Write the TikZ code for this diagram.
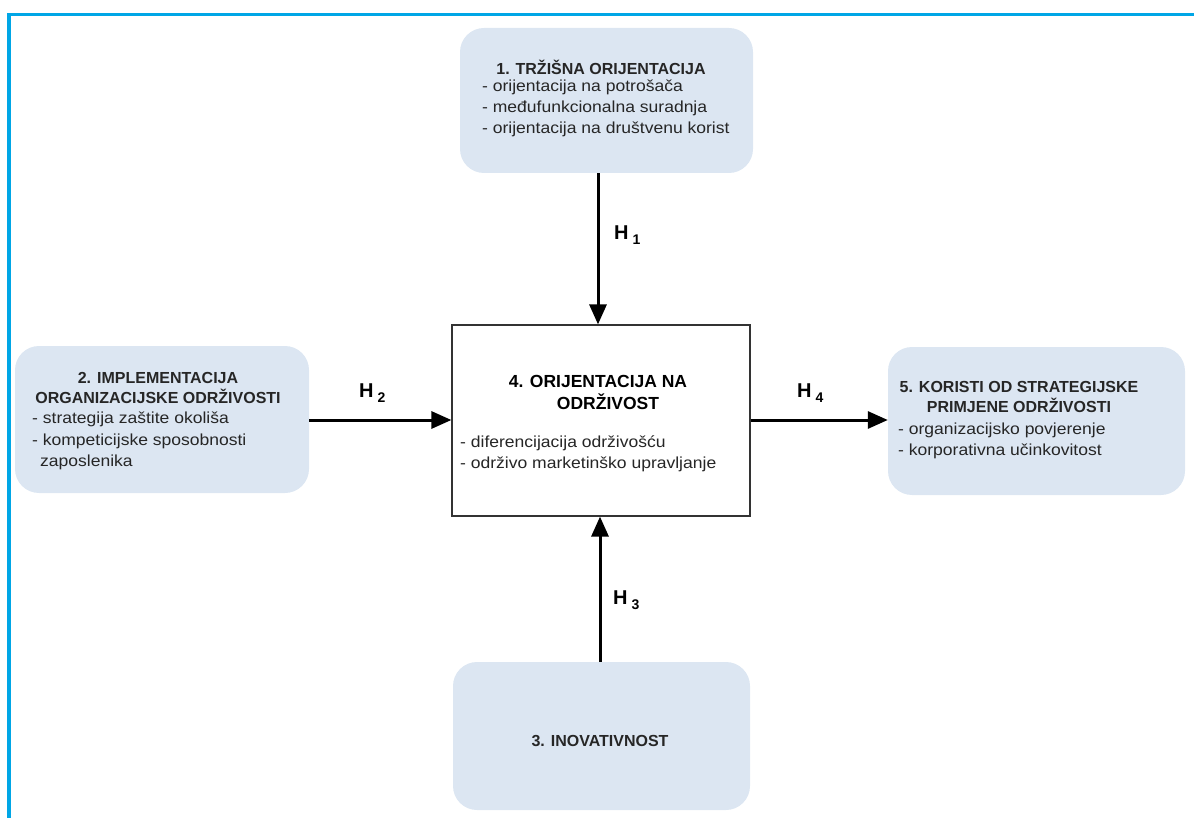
\documentclass[tikz,border=0pt]{standalone}
\usepackage{fontspec}
\setmainfont{Liberation Sans}
\newfontfamily\bodyfont[FakeStretch=1.095]{Liberation Sans}
\usetikzlibrary{arrows.meta}
\definecolor{frameblue}{RGB}{0,166,230}
\definecolor{boxfill}{RGB}{220,230,242}
\newcommand{\hsub}[1]{H\hspace{4pt}\raisebox{-5pt}{\fontsize{14}{14}\selectfont #1}}
\tikzset{
  soft/.style={fill=boxfill, draw=none, rounded corners=24pt},
  core/.style={fill=white, draw=black!80, line width=1.2pt},
  txt/.style={inner sep=0pt, font=\bodyfont\fontsize{16}{20}\selectfont, text=black!85},
  head/.style={inner sep=0pt, font=\fontsize{16}{20.5}\selectfont\bfseries, text=black!85, align=center},
  bighead/.style={inner sep=0pt, font=\fontsize{17.5}{21}\selectfont\bfseries, text=black, align=center},
  hyp/.style={-{Triangle[length=20pt,width=17pt]}, line width=3pt, shorten >=0pt},
  hlab/.style={inner sep=0pt, font=\fontsize{20}{20}\selectfont\bfseries}
}
\begin{document}
\begin{tikzpicture}[x=1pt,y=-1pt]
\useasboundingbox (0,0) rectangle (1194,818);
% frame
\draw[frameblue, line width=3.5pt] (8.75,830) -- (8.75,14.75) -- (1210,14.75);
% boxes
\node[soft, minimum width=293pt, minimum height=145pt] (b1) at (606.5,100.5) {};
\node[soft, minimum width=294pt, minimum height=147pt] (b2) at (162,419.5) {};
\node[core, minimum width=298pt, minimum height=191pt] (b4) at (601,420.5) {};
\node[soft, minimum width=297pt, minimum height=148pt] (b5) at (1036.5,421) {};
\node[soft, minimum width=297pt, minimum height=148pt] (b3) at (601.5,736) {};
% box 1 text
\node[head] (t1) at (601,67) {1. TRŽIŠNA ORIJENTACIJA};
\node[txt, anchor=west] (t1a) at (482,87) {- orijentacija na potrošača};
\node[txt, anchor=west] (t1b) at (482,108) {- međufunkcionalna suradnja};
\node[txt, anchor=west] (t1c) at (482,129) {- orijentacija na društvenu korist};
% box 2 text
\node[head] (t2) at (158,388) {2. IMPLEMENTACIJA\\ORGANIZACIJSKE ODRŽIVOSTI};
\node[txt, anchor=west] (t2a) at (32,419) {- strategija zaštite okoliša};
\node[txt, anchor=west] (t2b) at (32,441) {- kompeticijske sposobnosti};
\node[txt, anchor=west] (t2c) at (40,462) {zaposlenika};
% box 4 text
\node[bighead] (t4) at (598,381) {4. ORIJENTACIJA NA};
\node[bighead] (t4b) at (608,402) {ODRŽIVOST};
\node[txt, anchor=west] (t4c) at (460,443) {- diferencijacija održivošću};
\node[txt, anchor=west] (t4d) at (460,464) {- održivo marketinško upravljanje};
% box 5 text
\node[head] (t5) at (1019,397) {5. KORISTI OD STRATEGIJSKE\\PRIMJENE ODRŽIVOSTI};
\node[txt, anchor=west] (t5a) at (898,430) {- organizacijsko povjerenje};
\node[txt, anchor=west] (t5b) at (898,451) {- korporativna učinkovitost};
% box 3 text
\node[head] (t3) at (600,741) {3. INOVATIVNOST};
% arrows
\draw[hyp] (b1.south -| 598,0) -- (b4.north -| 598,0);
\draw[hyp] (b2.east |- 0,420) -- (b4.west |- 0,420);
\draw[hyp] (b4.east |- 0,420) -- (b5.west |- 0,420);
\draw[hyp] (b3.north -| 600,0) -- (b4.south -| 600,0);
% labels
\node[hlab, anchor=west] (h1) at (614,235) {\hsub{1}};
\node[hlab, anchor=west] (h2) at (359,393) {\hsub{2}};
\node[hlab, anchor=west] (h4) at (797,393) {\hsub{4}};
\node[hlab, anchor=west] (h3) at (613,600) {\hsub{3}};
\end{tikzpicture}
\end{document}
